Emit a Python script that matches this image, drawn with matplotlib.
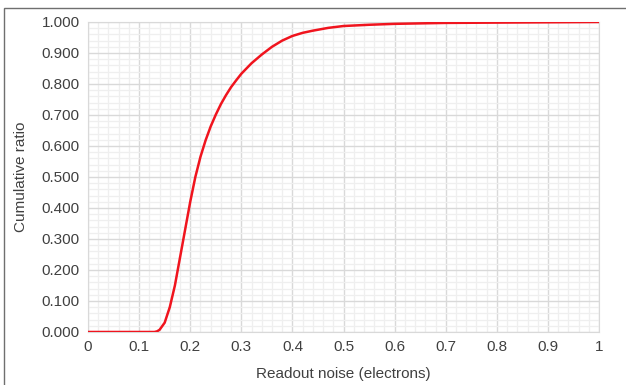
import matplotlib
matplotlib.use("Agg")
import matplotlib.pyplot as plt
from matplotlib.ticker import MultipleLocator, FormatStrFormatter
from matplotlib.patches import Rectangle

plt.rcParams['font.family'] = ['Liberation Sans', 'DejaVu Sans']

# cumulative ratio
noise = [0, 0.13, 0.135, 0.14, 0.15, 0.16, 0.17, 0.18, 0.19, 0.20, 0.21, 0.22,
         0.23, 0.24, 0.25, 0.26, 0.27, 0.28, 0.29, 0.30, 0.32, 0.34, 0.36,
         0.38, 0.40, 0.42, 0.44, 0.47, 0.50, 0.55, 0.60, 0.70, 0.80, 0.90, 1.0]
ratio = [0, 0, 0.002, 0.007, 0.03, 0.08, 0.15, 0.24, 0.33, 0.42, 0.50, 0.565,
         0.618, 0.663, 0.701, 0.735, 0.764, 0.79, 0.812, 0.833, 0.867, 0.895, 0.92,
         0.94, 0.955, 0.965, 0.972, 0.981, 0.987, 0.991, 0.994, 0.997, 0.998, 0.999, 1.0]

xticks = [0, 0.1, 0.2, 0.3, 0.4, 0.5, 0.6, 0.7, 0.8, 0.9, 1]
xlabels = ['0', '0.1', '0.2', '0.3', '0.4', '0.5', '0.6', '0.7', '0.8', '0.9', '1']

fig = plt.figure(figsize=(6.26, 3.85), dpi=100)
ax = fig.add_axes([0.1406, 0.1377, 0.8164, 0.8052])

ax.plot(noise, ratio, color='#f0141e', lw=1.8, solid_capstyle='round',
        solid_joinstyle='round', zorder=3)

ax.set_xlim(0, 1)
ax.set_ylim(0, 1)
ax.set_xticks(xticks)
ax.set_xticklabels(xlabels)
ax.yaxis.set_major_locator(MultipleLocator(0.1))
ax.yaxis.set_major_formatter(FormatStrFormatter('%.3f'))
ax.xaxis.set_minor_locator(MultipleLocator(0.02))
ax.yaxis.set_minor_locator(MultipleLocator(0.02))

ax.grid(which='major', color='#d9d9d9', lw=1.0)
ax.grid(which='minor', color='#efefef', lw=0.9)
ax.set_axisbelow(True)
ax.tick_params(which='both', length=0, labelsize=11, colors='#404040', pad=6)
for s in ax.spines.values():
    s.set_color('#d9d9d9')

ax.set_xlabel('Readout noise (electrons)', fontsize=11, color='#404040', labelpad=9)
ax.set_ylabel('Cumulative ratio', fontsize=11, color='#404040', labelpad=10)

# outer chart border (cropped on the right and bottom in the reference)
fig.patches.append(Rectangle((4 / 626, -0.05), 1.2, 1 - 8 / 385 + 0.05,
                             transform=fig.transFigure, fill=False,
                             edgecolor='#6f6f6f', lw=1.0))

fig.savefig('out.png', dpi=100)
